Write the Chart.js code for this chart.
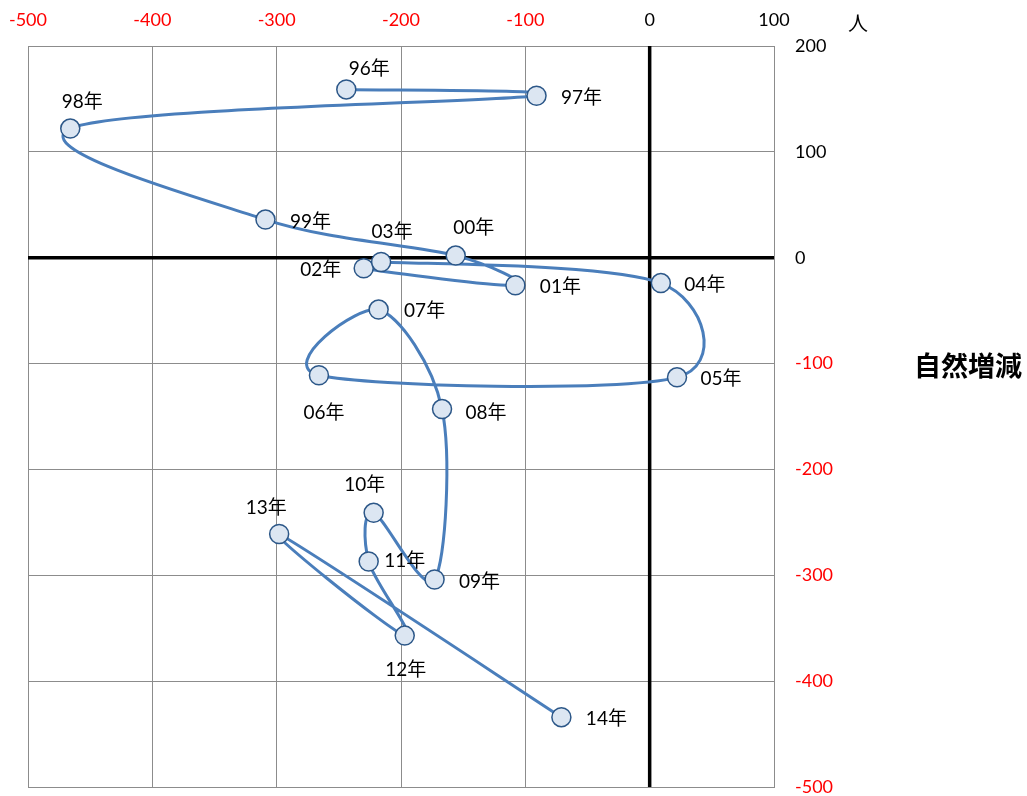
<!DOCTYPE html>
<html>
<head>
<meta charset="utf-8">
<script src="https://cdn.jsdelivr.net/npm/chart.js@4.4.0/dist/chart.umd.min.js"></script>
<style>
html,body{margin:0;padding:0;background:#fff;}
#wrap{width:1027px;height:796px;position:relative;}
</style>
</head>
<body>
<div id="wrap"><canvas id="c"></canvas></div>
<script>
// ---- data ----
const years = ['96年','97年','98年','99年','00年','01年','02年','03年','04年','05年','06年','07年','08年','09年','10年','11年','12年','13年','14年'];
const socialChange  = [-244, -91, -466, -309, -156, -108, -230, -216,   9,   22, -266, -218, -167, -173, -222, -226, -197, -298,  -71];
const naturalChange = [ 159, 153,  122,   36,    2,  -26,  -10,   -4, -24, -113, -111,  -49, -143, -304, -241, -287, -357, -261, -434];
const xTickValues = [-500, -400, -300, -200, -100, 0, 100];
const yTickValues = [-500, -400, -300, -200, -100, 0, 100, 200];
const unitText = '人';
const naturalTitle = '自然増減';

// ---- label placement (style, offsets of text centre from its point) ----
const labelOffsets = [
  [23,-21],[45,2],[12,-27],[45,2],[18,-28],[45,2],[-43,2],[11,-30],[44,2],[44,2],
  [5,38],[46,1],[44,4],[45,2],[-9,-28],[36,-1],[1,34],[-13,-26],[45,2]
];

const FONT = "Lato, 'Noto Sans CJK JP', sans-serif";
const GRID = '#8c8c8c';
const tickColor = ctx => (ctx.tick && ctx.tick.value < 0) ? '#ff0000' : '#000000';

const points = socialChange.map((x, i) => ({ x: x, y: naturalChange[i] }));

// Office-style smoothing: Catmull-Rom tangents (1/6), limited by adjacent segment length
const smoothPlugin = {
  id: 'smooth',
  beforeDatasetsDraw(chart) {
    const meta = chart.getDatasetMeta(0);
    const line = meta.dataset;
    if (!line) return;
    line.updateControlPoints(chart.chartArea, 'x');
    const pts = meta.data;
    const n = pts.length;
    const dist = (a, b) => Math.hypot(a.x - b.x, a.y - b.y);
    for (let i = 0; i < n; i++) {
      const p = pts[i];
      const prev = pts[Math.max(0, i - 1)];
      const next = pts[Math.min(n - 1, i + 1)];
      const tx = (next.x - prev.x) / 6;
      const ty = (next.y - prev.y) / 6;
      const tl = Math.hypot(tx, ty) || 1;
      const k1 = Math.min(1, 0.5 * dist(p, prev) / tl);
      const k2 = Math.min(1, 0.5 * dist(p, next) / tl);
      p.cp1x = p.x - tx * k1; p.cp1y = p.y - ty * k1;
      p.cp2x = p.x + tx * k2; p.cp2y = p.y + ty * k2;
    }
  }
};

const decorPlugin = {
  id: 'decor',
  beforeDatasetsDraw(chart) {
    const { ctx, chartArea: a, scales: { x, y } } = chart;
    ctx.save();
    ctx.strokeStyle = '#000';
    ctx.lineWidth = 3.5;
    const x0 = x.getPixelForValue(0);
    const y0 = y.getPixelForValue(0);
    ctx.beginPath();
    ctx.moveTo(x0, a.top); ctx.lineTo(x0, a.bottom);
    ctx.moveTo(a.left, y0); ctx.lineTo(a.right, y0);
    ctx.stroke();
    ctx.restore();
  },
  afterDatasetsDraw(chart) {
    const { ctx, chartArea: a, scales: { y } } = chart;
    const meta = chart.getDatasetMeta(0);
    ctx.save();
    ctx.font = "19px " + FONT;
    ctx.fillStyle = '#000';
    ctx.textAlign = 'center';
    ctx.textBaseline = 'middle';
    meta.data.forEach((el, i) => {
      const off = labelOffsets[i];
      ctx.fillText(years[i], el.x + off[0], el.y + off[1]);
    });
    ctx.font = "20px 'Noto Sans CJK JP', sans-serif";
    ctx.fillText(unitText, a.right + 84, 23);
    ctx.font = "bold 27px 'Noto Sans CJK JP', sans-serif";
    ctx.fillText(naturalTitle, a.right + 194, y.getPixelForValue(-100) + 2);
    ctx.restore();
  }
};

new Chart(document.getElementById('c'), {
  type: 'scatter',
  data: {
    datasets: [{
      data: points,
      showLine: true,
      borderColor: '#4a7ebb',
      borderWidth: 3,
      tension: 0.4,
      pointRadius: 9.5,
      pointHoverRadius: 9.5,
      pointBorderWidth: 1.5,
      pointBackgroundColor: '#dce6f2',
      pointBorderColor: '#2c5788'
    }]
  },
  options: {
    responsive: true,
    maintainAspectRatio: false,
    animation: false,
    layout: { autoPadding: false, padding: { left: 28, top: 0, right: 0, bottom: 9 } },
    plugins: { legend: { display: false }, tooltip: { enabled: false } },
    scales: {
      x: {
        type: 'linear',
        position: 'top',
        min: -500, max: 100,
        afterBuildTicks: s => { s.ticks = xTickValues.map(v => ({ value: v })); },
        afterFit: s => { s.height = 46; s.paddingLeft = 0; s.paddingRight = 0; },
        ticks: { color: tickColor, font: { family: FONT, size: 18 }, padding: 15, maxRotation: 0, autoSkip: false },
        grid: { color: GRID, lineWidth: 1, drawTicks: false },
        border: { display: true, color: GRID, width: 1 }
      },
      y: {
        type: 'linear',
        position: 'right',
        min: -500, max: 200,
        afterBuildTicks: s => { s.ticks = yTickValues.map(v => ({ value: v })); },
        afterFit: s => { s.width = 253; s.paddingTop = 0; s.paddingBottom = 0; },
        ticks: { color: tickColor, font: { family: FONT, size: 18 }, padding: 21, autoSkip: false },
        grid: { color: GRID, lineWidth: 1, drawTicks: false },
        border: { display: true, color: GRID, width: 1 }
      }
    }
  },
  plugins: [smoothPlugin, decorPlugin]
});
</script>
</body>
</html>
